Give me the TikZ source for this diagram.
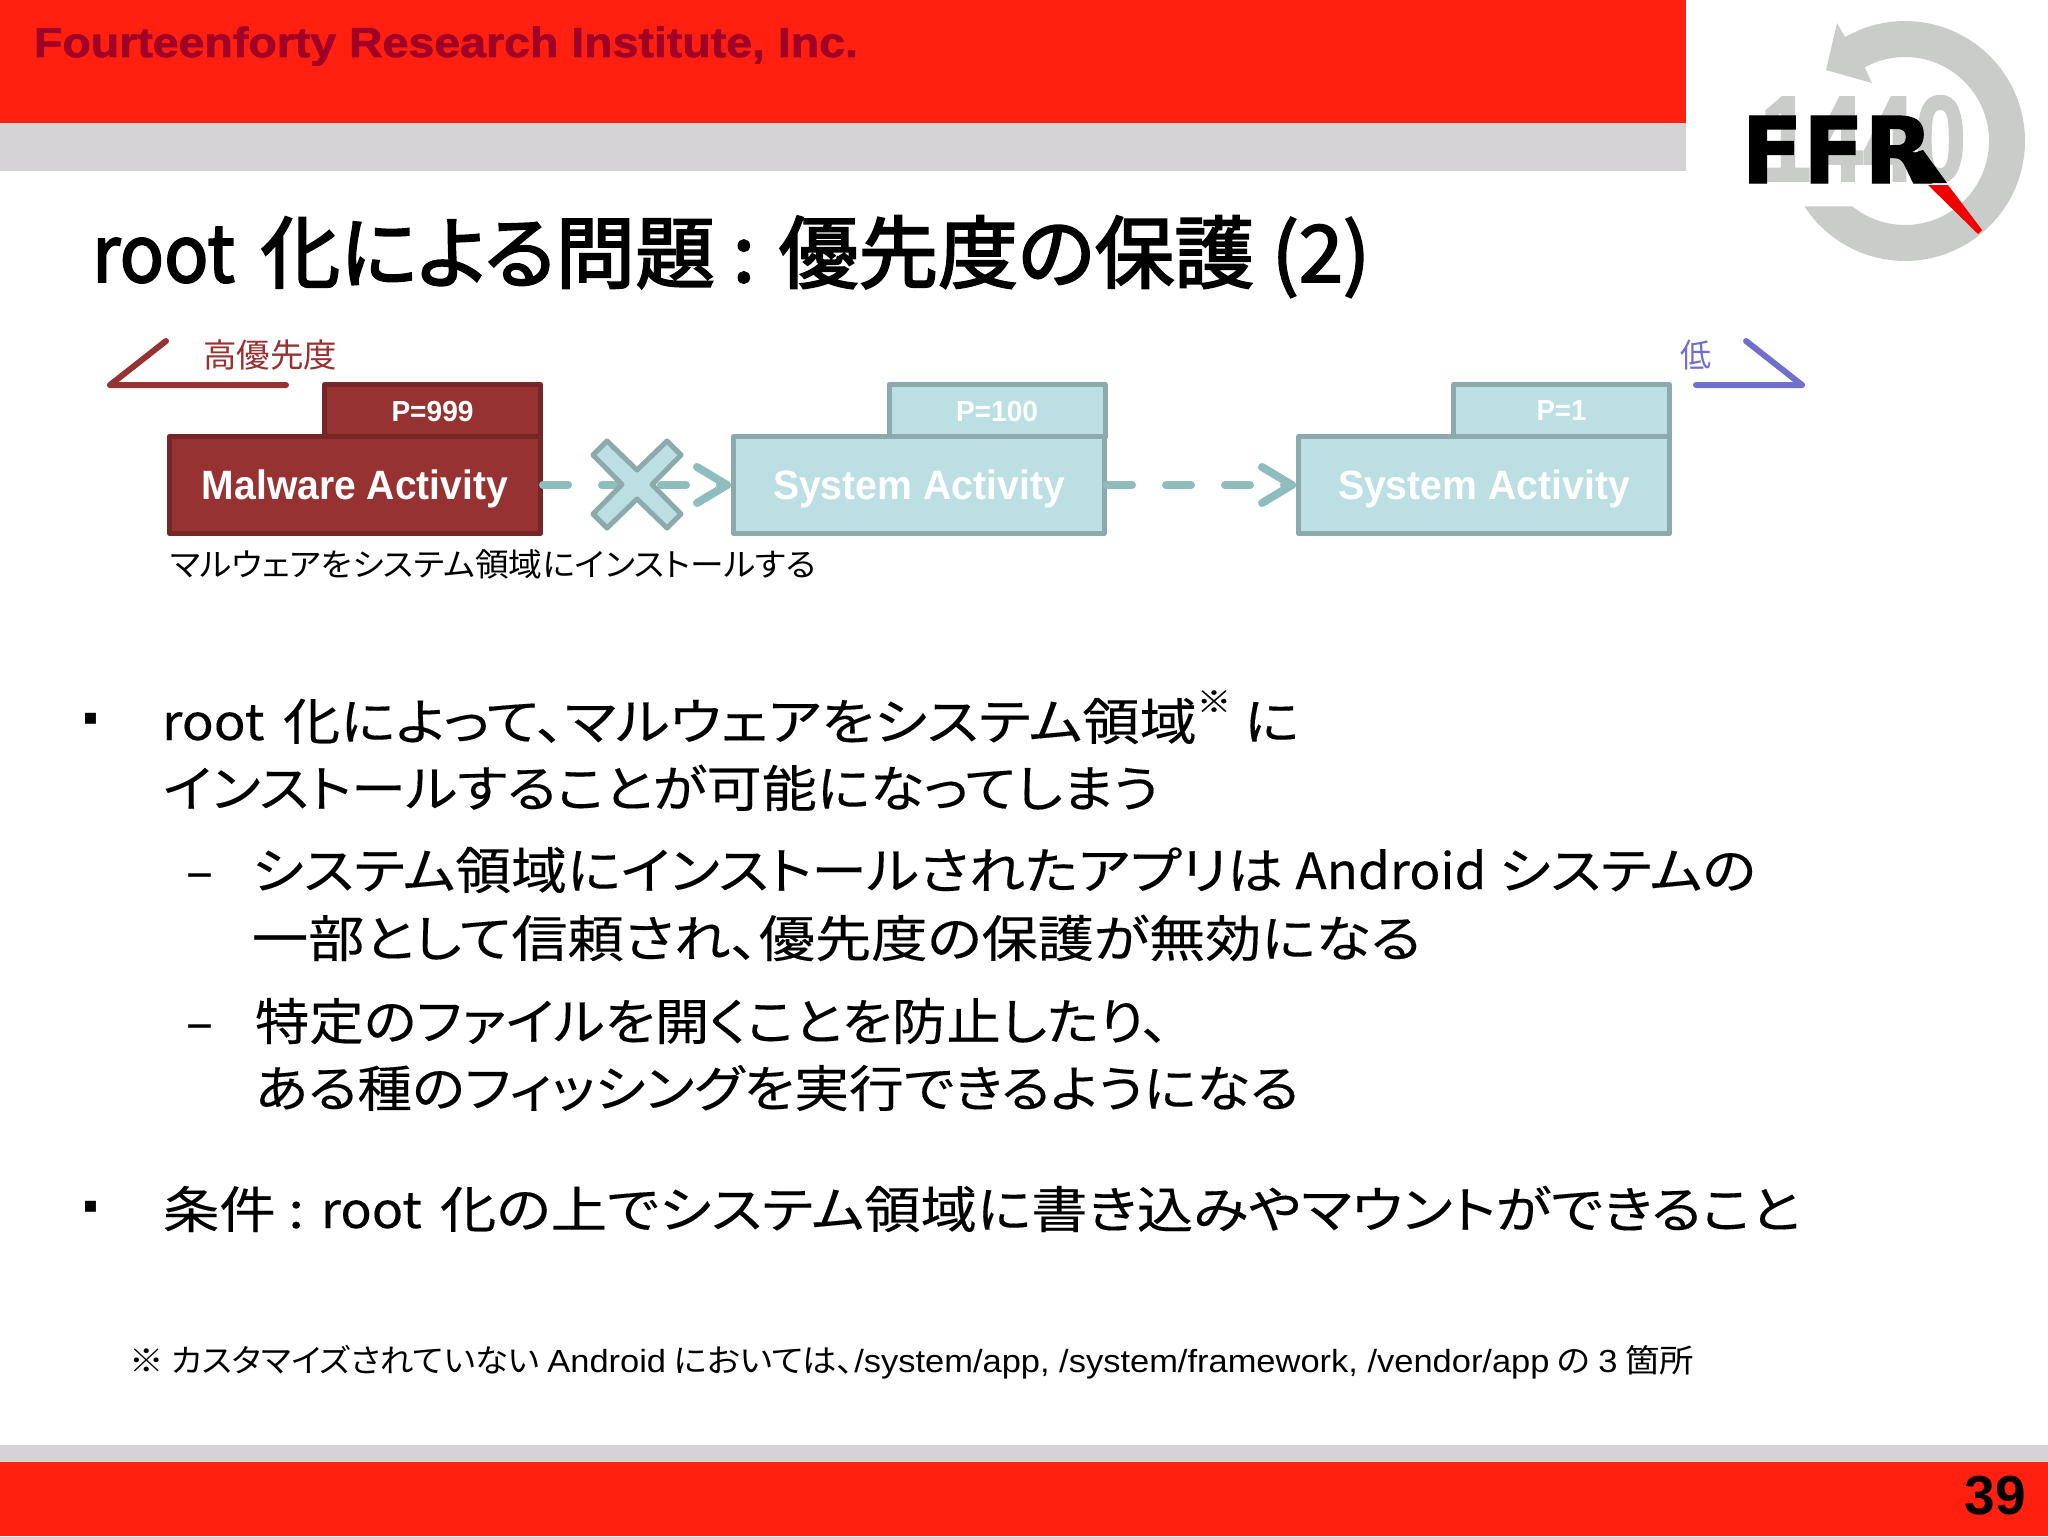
\documentclass[tikz,border=0pt]{standalone}
\usepackage{fontspec}
\usepackage{graphicx}
\usetikzlibrary{arrows.meta}
\setmainfont[RawFeature=+palt]{Noto Sans CJK JP}
\newfontfamily\bodyfont[RawFeature=+palt,FakeBold=0.25]{Noto Sans CJK JP}
\newfontfamily\titlefont[RawFeature=+palt,FakeBold=2.5]{Noto Sans CJK JP}
\newfontfamily\lib{Liberation Sans}
\newfontfamily\libheavy[FakeBold=1.6]{Liberation Sans Bold}
\newfontfamily\logofont[FakeBold=1.2]{DejaVu Sans Bold}
\newfontfamily\symfont{DejaVu Sans}
\definecolor{hdrred}{HTML}{FF2010}
\definecolor{hdrgray}{HTML}{D5D3D6}
\definecolor{hdrtext}{HTML}{A00028}
\definecolor{malfill}{HTML}{963232}
\definecolor{malline}{HTML}{762626}
\definecolor{sysfill}{HTML}{BBDFE2}
\definecolor{sysline}{HTML}{8CA9AB}
\definecolor{dashcol}{HTML}{8FBCBD}
\definecolor{lowcol}{HTML}{7070CC}
\definecolor{logogray}{HTML}{CACCCA}
\newcommand{\fz}[1]{\fontsize{#1pt}{#1pt}\selectfont}
\newcommand{\ft}[2]{\resizebox{#1pt}{\height}{#2}}
\newcommand{\gap}{\hspace{.1em}}
\newcommand{\nar}[1]{\scalebox{.92}[1]{#1}}
\tikzset{
  x=0.5pt,y=-0.5pt,
  txt/.style={anchor=base west,inner sep=0pt,outer sep=0pt,text=black},
  bodytxt/.style={txt,font=\bodyfont\fz{25}},
  bullet/.style={inner sep=0pt,outer sep=0pt,text=black,font=\symfont\fz{11}},
  mainbox/.style={draw,line width=2.5pt,line join=round,minimum width=185.5pt,minimum height=48.5pt,inner sep=0pt,text=white,text depth=0pt,font=\lib\bfseries\fz{20.5}},
  tabbox/.style={draw,line width=2.5pt,line join=round,minimum width=108pt,minimum height=26.5pt,inner sep=0pt,text=white,text depth=0pt,font=\lib\bfseries\fz{14.5}},
  mal/.style={fill=malfill,draw=malline},
  sys/.style={fill=sysfill,draw=sysline},
  flow/.style={draw=dashcol,line width=4pt,line cap=round,dash pattern=on 12.5pt off 17pt,
    -{Straight Barb[length=15pt,width=18pt,line width=4pt,round]}},
  prio/.style={line width=3pt,line cap=round,line join=round}
}
\begin{document}
\begin{tikzpicture}
\useasboundingbox (0,0) rectangle (2048,1536);
\fill[white] (0,0) rectangle (2048,1536);
% header / footer bands
\fill[hdrred] (0,0) rectangle (1686,123);
\fill[hdrgray] (0,123) rectangle (1686,171);
\fill[hdrgray] (0,1445) rectangle (2048,1462);
\fill[hdrred] (0,1462) rectangle (2048,1536);
\node[txt,text=hdrtext,font=\libheavy\fz{21}] (company) at (34,57) {\ft{412}{Fourteenforty Research Institute, Inc.}};
\node[txt,anchor=base east,font=\lib\bfseries\fz{27.5}] (pageno) at (2026,1514) {39};
% logo
\fill[logogray] plot[domain=120:-147,samples=70] ({1905+120*cos(\x)},{141-120*sin(\x)})
  -- plot[domain=-129:118.7,samples=70] ({1905+84*cos(\x)},{141-84*sin(\x)})
  -- (1872,83) -- (1826,70) -- (1837,23) -- cycle;
\node[inner sep=0pt,text=logogray,font=\libheavy\fz{61}] (num) at (1863,139) {\scalebox{.76}[1]{1440}};
\node[inner sep=0pt,anchor=base west,text=black,font=\logofont\fz{46}] (ffr) at (1741,183) {\ft{96}{FFR}};
\fill[black] (1923,150) -- (1947,183) -- (1927,183) -- (1900,157) -- cycle;
\fill[red!95!black] (1928,185) -- (1948,185) -- (1982,230) -- (1978,234) -- cycle;
% title
\node[txt,font=\titlefont\fz{39.5}] (title) at (92,282) {\ft{639}{\nar{root}\gap{} 化による問題 : 優先度の保護 (2)}};
% priority marks
\draw[prio,draw=malfill] (166,341) -- (110,385) -- (286,385);
\draw[prio,draw=lowcol] (1696,385) -- (1802,385) -- (1746,341);
\node[txt,text=malfill,font=\fz{16.5}] (hi) at (203,367) {\ft{67}{高優先度}};
\node[txt,text=lowcol,font=\fz{16.5}] (lo) at (1680,367) {\ft{15.5}{低}};
% boxes
\node[tabbox,mal] (t1) at (432.5,411) {\ft{41}{P=999}};
\node[mainbox,mal] (b1) at (355,485) {\ft{153}{Malware Activity}};
\node[tabbox,sys] (t2) at (997,411) {\ft{41}{P=100}};
\node[mainbox,sys] (b2) at (919,485) {\ft{146}{System Activity}};
\node[tabbox,sys] (t3) at (1561.5,411) {\ft{25}{P=1}};
\node[mainbox,sys] (b3) at (1484,485) {\ft{146}{System Activity}};
% connectors
\draw[flow] (b1) -- (b2);
\draw[flow] (b2) -- (b3);
% cross
\filldraw[fill=sysfill,draw=sysline,line width=2.5pt,line join=round]
 (607,441) -- (637,470) -- (667,441) -- (681,455) -- (652,484.5) -- (681,514) -- (667,528)
 -- (637,499) -- (607,528) -- (593,514) -- (622,484.5) -- (593,455) -- cycle;
% caption
\node[txt,font=\fz{16}] (cap) at (170,576) {\ft{323}{マルウェアをシステム領域にインストールする}};
% body
\node[bullet] (bu1) at (90.5,719) {▪};
\node[bodytxt] (l1) at (162,740) {\ft{568.5}{\nar{root}\gap{} 化によって、マルウェアをシステム領域\raisebox{.55em}{\fz{15}※} に}};
\node[bodytxt] (l2) at (163,807) {\ft{498}{インストールすることが可能になってしまう}};
\node[bodytxt] (d1) at (186,889) {–};
\node[bodytxt] (l3) at (252,889) {\ft{752}{システム領域にインストールされたアプリは \nar{Android} システムの}};
\node[bodytxt] (l4) at (252,957) {\ft{584.5}{一部として信頼され、優先度の保護が無効になる}};
\node[bodytxt] (d2) at (186,1040) {–};
\node[bodytxt] (l5) at (255,1040) {\ft{457}{特定のファイルを開くことを防止したり、}};
\node[bodytxt] (l6) at (255,1107) {\ft{522}{ある種のフィッシングを実行できるようになる}};
\node[bullet] (bu2) at (90.5,1207) {▪};
\node[bodytxt] (l7) at (163,1228) {\ft{818.5}{条件 : \nar{root}\gap{} 化の上でシステム領域に書き込みやマウントができること}};
\node[txt,font=\fz{16}] (foot) at (129,1372) {\ft{782.5}{※ \scalebox{.97}[1]{カスタマイズされていない} {\lib Android} においては、{\lib /system/app, /system/framework, /vendor/app} の {\lib 3} 箇所}};
\end{tikzpicture}
\end{document}
